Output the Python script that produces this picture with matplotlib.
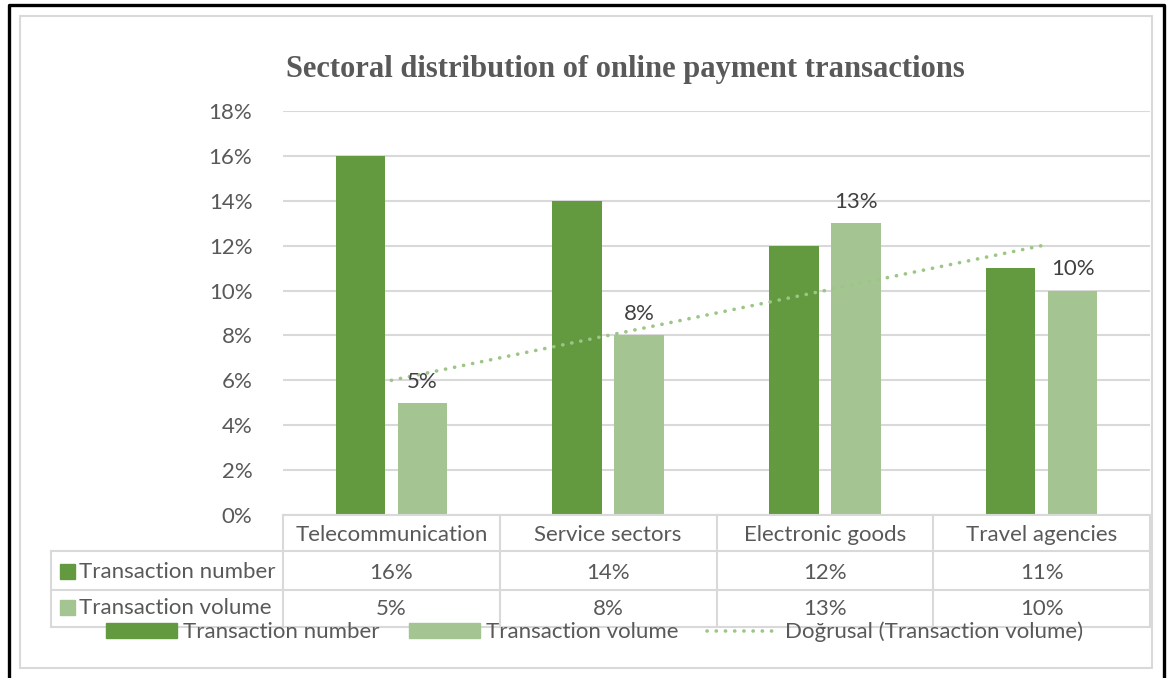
import numpy as np
import matplotlib
matplotlib.use("Agg")
import matplotlib.pyplot as plt
from matplotlib.transforms import blended_transform_factory
from matplotlib.lines import Line2D
from matplotlib.patches import Rectangle, Patch

# ---- data -------------------------------------------------------------
categories = ["Telecommunication", "Service sectors", "Electronic goods", "Travel agencies"]
series_names = ["Transaction number", "Transaction volume"]
transaction_number = [16, 14, 12, 11]
transaction_volume = [5, 8, 13, 10]
y_ticks = [0, 2, 4, 6, 8, 10, 12, 14, 16, 18]
title = "Sectoral distribution of online payment transactions"
trend_label = "Doğrusal (Transaction volume)"

# ---- style ------------------------------------------------------------
DARK = "#639A3F"
LIGHT = "#A4C492"
TREND = "#9CC685"
GRID = "#D9D9D9"
TXT = "#595959"
LBL = "#404040"
FONT = "Lato"
FS = 16

W, H = 1168, 678
fig = plt.figure(figsize=(W / 100, H / 100), dpi=100)
fig.patch.set_facecolor("white")


def fy(py):
    return 1 - py / H


def fx(px):
    return px / W


# plot area
ax_left, ax_right, ax_top, ax_bottom = 283, 1150, 111, 515
ax = fig.add_axes([fx(ax_left), fy(ax_bottom), (ax_right - ax_left) / W, (ax_bottom - ax_top) / H])
ax.set_facecolor("none")

x = np.arange(len(categories))
bar_w = 0.228
off = 0.143
ax.bar(x - off, transaction_number, width=bar_w, color=DARK, zorder=3)
bars_v = ax.bar(x + off, transaction_volume, width=bar_w, color=LIGHT, zorder=3)

# data labels on the volume series
for rect, v in zip(bars_v, transaction_volume):
    ax.annotate(f"{v}%", (rect.get_x() + rect.get_width() / 2, v),
                xytext=(0, 8), textcoords="offset points", ha="center", va="bottom",
                fontsize=FS, color=LBL, fontfamily=FONT, zorder=5)

# linear trend line of the volume series
coef = np.polyfit(x + 1, transaction_volume, 1)
trend = np.polyval(coef, x + 1)
trend_style = dict(color=TREND, lw=2.6, linestyle=(0, (0.05, 2.5)), dash_capstyle="round")
ax.plot(x, trend, zorder=4, **trend_style)

ax.set_xlim(-0.5, len(categories) - 0.5)
ax.set_ylim(0, 18)
ax.set_yticks(y_ticks)
ax.set_yticklabels([f"{t}%" for t in y_ticks], fontfamily=FONT, fontsize=FS, color=TXT)
ax.tick_params(axis="y", length=0, pad=22)
ax.set_xticks([])
ax.yaxis.grid(True, color=GRID, lw=1.5, zorder=0)
for s in ax.spines.values():
    s.set_visible(False)

# ---- data table under the plot ---------------------------------------
tr = blended_transform_factory(ax.transData, fig.transFigure)
row_y = [515, 551, 590, 627]
hdr_left = -0.5 + (51 - ax_left) / ((ax_right - ax_left) / len(categories))
n = len(categories)

def hline(x0, x1, py):
    fig.add_artist(Line2D([x0, x1], [fy(py), fy(py)], transform=tr, color=GRID, lw=1.5))

def vline(xd, py0, py1):
    fig.add_artist(Line2D([xd, xd], [fy(py0), fy(py1)], transform=tr, color=GRID, lw=1.5))

hline(-0.5, n - 0.5, row_y[0])
for py in row_y[1:]:
    hline(hdr_left, n - 0.5, py)
for i in range(n + 1):
    vline(i - 0.5, row_y[0], row_y[3])
vline(hdr_left, row_y[1], row_y[3])

for i, c in enumerate(categories):
    fig.text(i, fy(535), c, transform=tr, ha="center", va="center",
             fontfamily=FONT, fontsize=FS, color=TXT)
    fig.text(i, fy(573), f"{transaction_number[i]}%", transform=tr, ha="center", va="center",
             fontfamily=FONT, fontsize=FS, color=TXT)
    fig.text(i, fy(609), f"{transaction_volume[i]}%", transform=tr, ha="center", va="center",
             fontfamily=FONT, fontsize=FS, color=TXT)

for name, col, py in [(series_names[0], DARK, 572), (series_names[1], LIGHT, 608)]:
    fig.add_artist(Rectangle((fx(60), fy(py + 7)), 15 / W, 15 / H,
                             transform=fig.transFigure, color=col))
    fig.text(fx(79), fy(py), name, ha="left", va="center",
             fontfamily=FONT, fontsize=FS, color=TXT)

# ---- legend -----------------------------------------------------------
handles = [Patch(color=DARK), Patch(color=LIGHT), Line2D([], [], **trend_style)]
fig.legend(handles, series_names + [trend_label], loc="center left",
           bbox_to_anchor=(fx(106), fy(632)), bbox_transform=fig.transFigure,
           ncol=3, frameon=False, borderpad=0, borderaxespad=0,
           handlelength=3.2, handleheight=0.63, handletextpad=0.28, columnspacing=1.3,
           prop={"family": FONT, "size": FS}, labelcolor=TXT)

# ---- title ------------------------------------------------------------
fig.text(fx(625), fy(70), title, ha="center", va="center",
         fontfamily="Liberation Serif", fontweight="bold", fontsize=22, color=TXT)

# ---- frames -----------------------------------------------------------
fig.add_artist(Rectangle((fx(20), fy(668)), (1152 - 20) / W, (668 - 16) / H,
                         transform=fig.transFigure, fill=False, edgecolor=GRID, lw=1.5))
fig.add_artist(Line2D([fx(9), fx(9), fx(1164), fx(1164)], [0, fy(5), fy(5), 0],
                      transform=fig.transFigure, color="black", lw=2.4))

fig.savefig("out.png", dpi=100, facecolor="white")
